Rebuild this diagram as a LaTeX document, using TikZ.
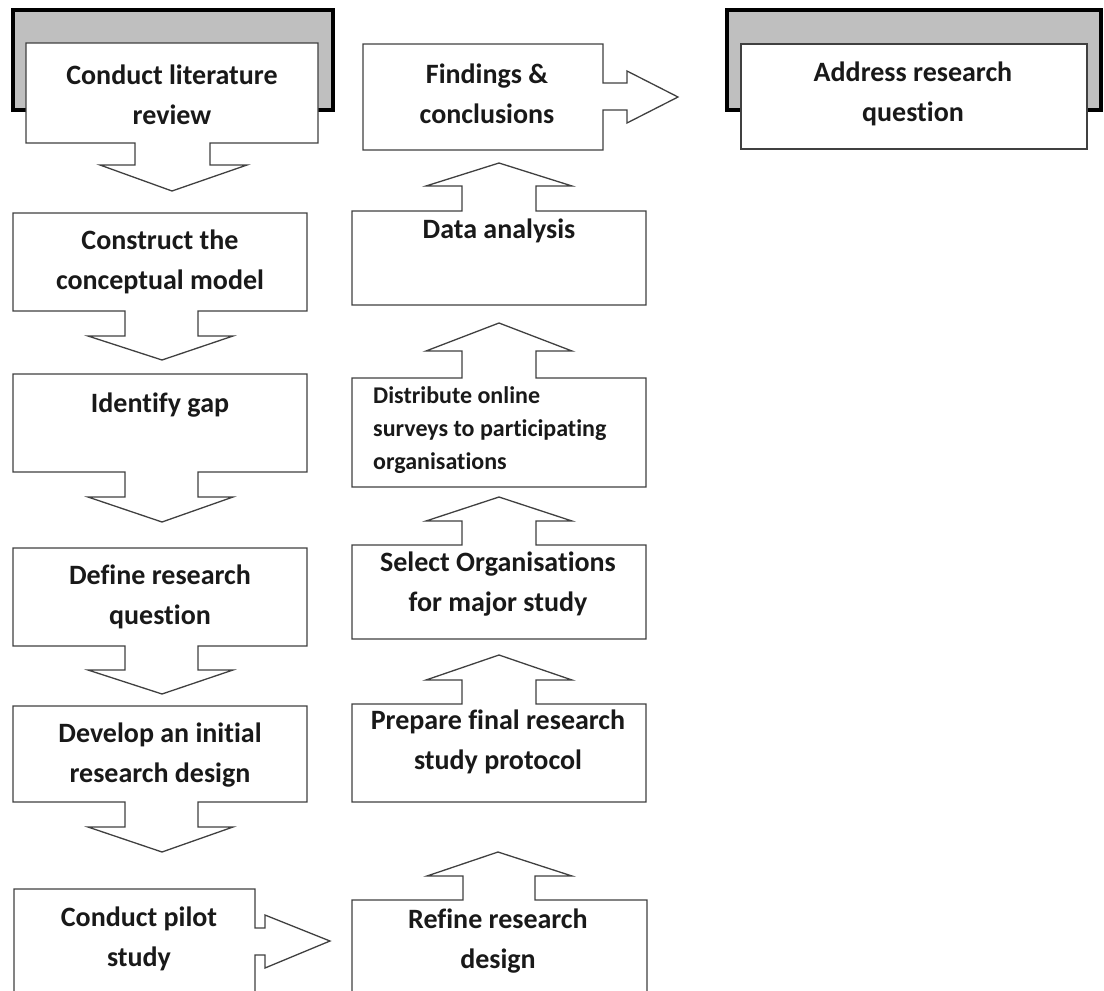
\documentclass[tikz,border=0pt]{standalone}
\usepackage{fontspec}
\setmainfont{Carlito}[Ligatures=NoCommon]
\begin{document}
\begin{tikzpicture}[x=1pt,y=-1pt,
  outl/.style={draw=black!75, line width=1.3pt, fill=white, line join=miter},
  bgbox/.style={draw=black, line width=3.5pt, fill=black!25},
  lbl/.style={font=\fontsize{28}{40}\selectfont\bfseries, align=center, inner sep=0pt, text=black!90},
  lblsmall/.style={font=\fontsize{24}{33}\selectfont\bfseries, align=left, inner sep=0pt, text=black!90}]
\useasboundingbox (0,0) rectangle (1104,991);
\begin{scope}
\clip (0,0) rectangle (1104,991);
% background grey frames
\draw[bgbox] (13,10) rectangle (333,110);
\draw[bgbox] (727,10) rectangle (1101,110);
% left column
\draw[outl] (26,43) -- (318,43) -- (318,143) -- (210,143) -- (210,165) -- (247,165) -- (172,191) -- (100,165) -- (135,165) -- (135,143) -- (26,143) -- cycle;
\draw[outl] (13,213) -- (307,213) -- (307,311) -- (198,311) -- (198,336) -- (233,336) -- (162,360) -- (88,336) -- (125,336) -- (125,311) -- (13,311) -- cycle;
\draw[outl] (13,374) -- (307,374) -- (307,472) -- (198,472) -- (198,497) -- (233,497) -- (162,522) -- (88,497) -- (125,497) -- (125,472) -- (13,472) -- cycle;
\draw[outl] (13,548) -- (307,548) -- (307,646) -- (198,646) -- (198,670) -- (233,670) -- (162,694) -- (88,670) -- (125,670) -- (125,646) -- (13,646) -- cycle;
\draw[outl] (13,706) -- (307,706) -- (307,802) -- (198,802) -- (198,827) -- (233,827) -- (162,852) -- (88,827) -- (125,827) -- (125,802) -- (13,802) -- cycle;
\draw[outl] (14,1000) -- (14,889) -- (255,889) -- (255,928) -- (265,928) -- (265,915) -- (330,941) -- (265,968) -- (265,955) -- (255,955) -- (255,1000) -- cycle;
% middle column
\draw[outl] (352,1000) -- (352,900) -- (463,900) -- (463,876) -- (427,876) -- (498,852) -- (572,876) -- (535,876) -- (535,900) -- (647,900) -- (647,1000) -- cycle;
\draw[outl] (352,704) -- (462,704) -- (462,680) -- (426,680) -- (499,655) -- (572,680) -- (536,680) -- (536,704) -- (646,704) -- (646,802) -- (352,802) -- cycle;
\draw[outl] (352,545) -- (462,545) -- (462,521) -- (426,521) -- (499,497) -- (572,521) -- (536,521) -- (536,545) -- (646,545) -- (646,639) -- (352,639) -- cycle;
\draw[outl] (352,378) -- (462,378) -- (462,351) -- (426,351) -- (499,323) -- (572,351) -- (536,351) -- (536,378) -- (646,378) -- (646,487) -- (352,487) -- cycle;
\draw[outl] (352,211) -- (462,211) -- (462,186) -- (426,186) -- (499,163) -- (572,186) -- (536,186) -- (536,211) -- (646,211) -- (646,305) -- (352,305) -- cycle;
\draw[outl] (363,44) -- (603,44) -- (603,83) -- (627,83) -- (627,71) -- (678,97) -- (627,123) -- (627,110) -- (603,110) -- (603,150) -- (363,150) -- cycle;
% right box
\draw[outl] (741,44) rectangle (1087,149);
\end{scope}
% labels
\node[lbl] (lit) at (172,95) {Conduct literature\\review};
\node[lbl] (model) at (160,262) {Construct the\\conceptual model};
\node[lbl] (gap) at (160,405) {Identify gap};
\node[lbl] (rq) at (160,597) {Define research\\question};
\node[lbl] (init) at (160,755) {Develop an initial\\research design};
\node[lbl] (pilot) at (139,939) {Conduct pilot\\study};
\node[lbl] (refine) at (498,941) {Refine research\\design};
\node[lbl] (prep) at (498,742) {Prepare final research\\study protocol};
\node[lbl] (sel) at (498,584) {Select Organisations\\for major study};
\node[lblsmall, anchor=west] (dist) at (373,430) {Distribute online\\surveys to participating\\organisations};
\node[lbl] (data) at (499,231) {Data analysis};
\node[lbl] (find) at (487,94) {Findings \&\\conclusions};
\node[lbl] (addr) at (913,94) {Address research\\question};
\end{tikzpicture}
\end{document}
